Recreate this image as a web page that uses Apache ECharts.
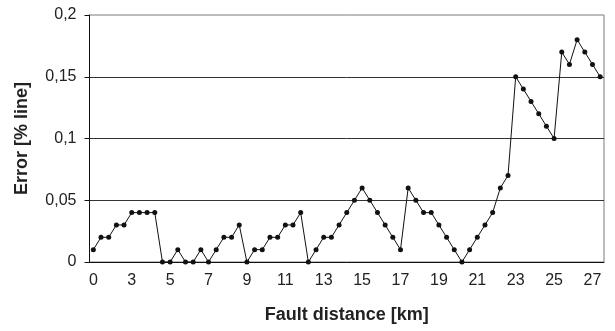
<!DOCTYPE html>
<html>
<head>
<meta charset="utf-8">
<script src="https://cdn.jsdelivr.net/npm/echarts@6/dist/echarts.min.js"></script>
<style>
html,body{margin:0;padding:0;background:#fff;}
#c{width:615px;height:331px;}
</style>
</head>
<body>
<div id="c"></div>
<script>
// Tick labels shown every 5th measurement point (fault distance, km)
const tickLabels = ['0','3','5','7','9','11','13','15','17','19','21','23','25','27'];
// Error [% line] for each measurement point, left to right
const errorValues = [
  0.01,0.02,0.02,0.03,0.03,0.04,0.04,0.04,0.04,
  0,0,0.01,0,0,0.01,0,0.01,0.02,0.02,0.03,0,
  0.01,0.01,0.02,0.02,0.03,0.03,0.04,0,
  0.01,0.02,0.02,0.03,0.04,0.05,0.06,0.05,0.04,0.03,0.02,0.01,
  0.06,0.05,0.04,0.04,0.03,0.02,0.01,0,
  0.01,0.02,0.03,0.04,0.06,0.07,
  0.15,0.14,0.13,0.12,0.11,0.10,0.17,0.16,0.18,0.17,0.16,0.15
];
const categories = errorValues.map((_, i) => String(i));
const yTicks = { min: 0, max: 0.2, interval: 0.05 };

const chart = echarts.init(document.getElementById('c'), null, { renderer: 'canvas' });
const font = 'Liberation Sans, Arial, sans-serif';
chart.setOption({
  animation: false,
  backgroundColor: '#fff',
  grid: {
    left: 89.5, right: 11, top: 15, bottom: 69,
    show: true, borderColor: '#7a7a7a', borderWidth: 1, containLabel: false
  },
  xAxis: {
    type: 'category',
    data: categories,
    boundaryGap: true,
    name: 'Fault distance [km]',
    nameLocation: 'middle',
    nameGap: 44,
    nameTextStyle: { fontFamily: font, fontSize: 18, fontWeight: 'bold', color: '#222' },
    axisLine: { lineStyle: { color: '#111', width: 1 } },
    axisTick: { interval: 4, length: 5, lineStyle: { color: '#111' } },
    axisLabel: {
      interval: 4, margin: 11,
      fontFamily: font, fontSize: 16, color: '#222',
      formatter: (v, i) => tickLabels[i / 5] !== undefined ? tickLabels[i / 5] : ''
    },
    splitLine: { show: false }
  },
  yAxis: {
    type: 'value',
    min: yTicks.min, max: yTicks.max, interval: yTicks.interval,
    name: 'Error [% line]',
    nameLocation: 'middle',
    nameGap: 58,
    nameTextStyle: { fontFamily: font, fontSize: 18, fontWeight: 'bold', color: '#222' },
    axisLine: { show: true, lineStyle: { color: '#111', width: 1 } },
    axisTick: { show: true, length: 5, lineStyle: { color: '#111' } },
    axisLabel: {
      margin: 13, fontFamily: font, fontSize: 16, color: '#222',
      formatter: v => String(+v.toFixed(2)).replace('.', ',')
    },
    splitLine: { show: true, showMinLine: false, showMaxLine: false, lineStyle: { color: '#333', width: 1 } }
  },
  series: [{
    type: 'line',
    data: errorValues,
    symbol: 'circle',
    symbolSize: 5,
    showAllSymbol: true,
    lineStyle: { color: '#111', width: 1 },
    itemStyle: { color: '#111' },
    z: 3
  }]
});
</script>
</body>
</html>
